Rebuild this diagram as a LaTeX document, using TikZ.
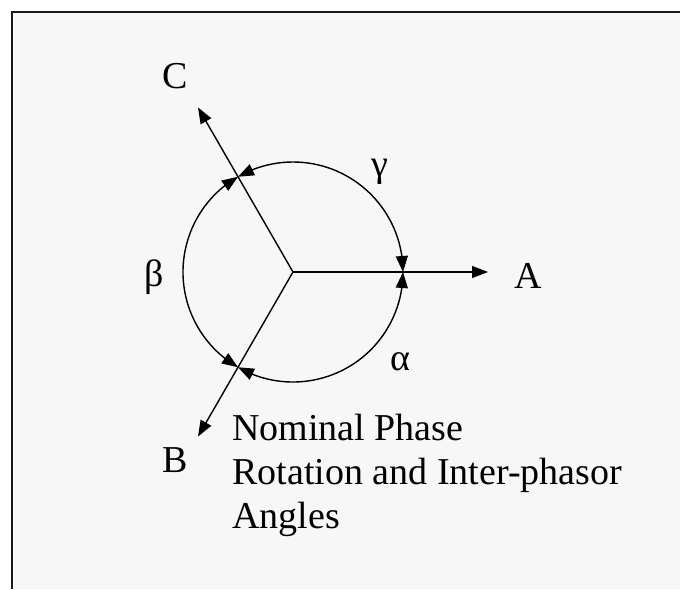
\documentclass[tikz,border=0pt]{standalone}
\usepackage{fontspec}
\setmainfont{Liberation Serif}
\usetikzlibrary{arrows.meta,bending}
\definecolor{panelgrey}{RGB}{247,247,247}
\definecolor{framegrey}{RGB}{25,25,25}

\begin{document}
\begin{tikzpicture}[x=0.5pt, y=0.5pt, font=\fontsize{19}{22}\selectfont,
    phasor/.style={-{Triangle[length=8pt,width=6pt]}, line width=0.7pt},
    anglearc/.style={{Triangle[length=8pt,width=6pt]}-{Triangle[length=8pt,width=6pt]}, line width=0.7pt}]
        % Panel (only top and left edges show)
        \useasboundingbox (-293,-317) rectangle (387,272);
        \fill[white] (-293,-317) rectangle (387,272);
        \fill[panelgrey] (-281,-317) rectangle (387,260);
        \draw[framegrey, line width=1.2pt] (-281,-317) -- (-281,260) -- (387,260);

        % Phasors
        \coordinate (O) at (0,0);
        \coordinate (tipA) at (0:195);
        \coordinate (tipC) at (120:190);
        \coordinate (tipB) at (240:190);
        \foreach \p in {A,B,C}{
          \draw[phasor] (O) -- (tip\p);
        }

        % Inter-phasor angles
        \coordinate (onA) at (0:110);
        \coordinate (onC) at (120:110);
        \coordinate (onB) at (240:110);
        \draw[anglearc] (onA) arc[start angle=0, end angle=120, radius=110];
        \draw[anglearc] (onC) arc[start angle=120, end angle=240, radius=110];
        \draw[anglearc] (onB) arc[start angle=240, end angle=360, radius=110];

        % Labels
        \node (labA) at (235,-4) {A};
        \node (labC) at (-118,196) {C};
        \node (labB) at (-118,-188) {B};
        \node (gamma) at (87,100) {γ};
        \node (beta) at (-139,-5) {β};
        \node (alpha) at (107,-90) {α};
        \node[align=left, anchor=base west, inner sep=0pt] (caption) at (-61,-256)
          {Nominal Phase\\Rotation and Inter-phasor\\Angles};
      \end{tikzpicture}
\end{document}
